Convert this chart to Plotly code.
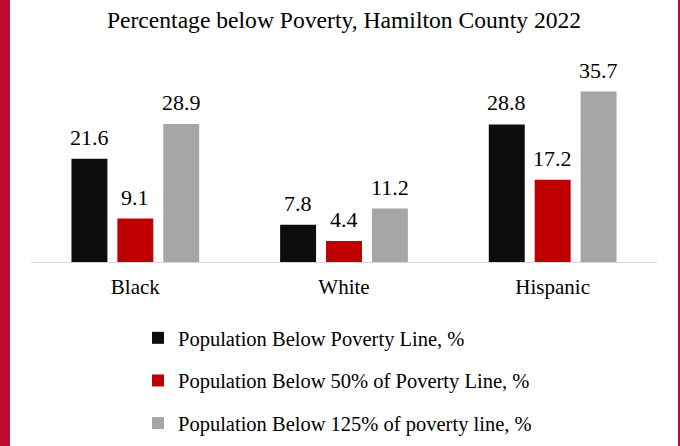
import plotly.graph_objects as go

categories = ["Black", "White", "Hispanic"]
series_names = [
    "Population Below Poverty Line, %",
    "Population Below 50% of Poverty Line, %",
    "Population Below 125% of poverty line, %",
]
below_poverty = [21.6, 7.8, 28.8]
below_50 = [9.1, 4.4, 17.2]
below_125 = [28.9, 11.2, 35.7]
colors = ["#0D0D0D", "#C00000", "#A6A6A6"]

W, H = 680, 446
ML, MR, MT, MB = 31, 23, 71, 184
PW = W - ML - MR
PH = H - MT - MB

FONT = "Liberation Serif"
SLOT = 46  # pixel distance between bars in a group

fig = go.Figure()
annotations = []
for i, (name, vals) in enumerate(zip(series_names, [below_poverty, below_50, below_125])):
    fig.add_trace(go.Bar(
        x=categories, y=vals, name=name,
        marker=dict(color=colors[i], line=dict(width=0)),
        cliponaxis=False, legendgroup=f"g{i}",
    ))
    for c, v in zip(categories, vals):
        annotations.append(dict(
            x=c, y=v, xref="x", yref="y", text=f"{v:.1f}", showarrow=False,
            xshift=(i - 1) * SLOT, yshift=7, yanchor="bottom", xanchor="center",
            font=dict(family=FONT, size=22, color="#000000"),
        ))

def px_x(p):
    return (p - ML) / PW

fig.update_layout(
    width=W, height=H,
    margin=dict(l=ML, r=MR, t=MT, b=MB, autoexpand=False),
    paper_bgcolor="white", plot_bgcolor="white",
    barmode="group", bargap=0.34, bargroupgap=0.217,
    font=dict(family=FONT, color="#000000"),
    title=dict(text="Percentage below Poverty, Hamilton County 2022",
               x=0.5, xref="paper", xanchor="center",
               y=1 - 20 / H, yref="container", yanchor="middle",
               font=dict(family=FONT, size=23.6, color="#000000")),
    xaxis=dict(showline=True, linecolor="#D9D9D9", linewidth=1, ticks="",
               showgrid=False, tickfont=dict(family=FONT, size=21, color="#000000"),
               ticklabelstandoff=6),
    yaxis=dict(range=[0, 40], visible=False, showgrid=False, zeroline=False),
    showlegend=True,
    legend=dict(orientation="v", x=138 / W, xref="container", xanchor="left",
                y=1 - 318 / H, yref="container", yanchor="top",
                traceorder="grouped", tracegroupgap=13,
                font=dict(family=FONT, size=20.5, color="#000000"),
                itemwidth=30, bgcolor="rgba(0,0,0,0)"),
    annotations=annotations,
    shapes=[
        dict(type="rect", xref="paper", yref="paper",
             x0=px_x(0), x1=px_x(10), y0=-2, y1=2,
             fillcolor="#BE0A34", line=dict(width=0), layer="above"),
        dict(type="rect", xref="paper", yref="paper",
             x0=px_x(678), x1=px_x(681), y0=-2, y1=2,
             fillcolor="#BE0A34", line=dict(width=0), layer="above"),
    ],
)

fig.write_html("out.html", config={"displayModeBar": False},
               post_script="document.body.style.margin='0';")
